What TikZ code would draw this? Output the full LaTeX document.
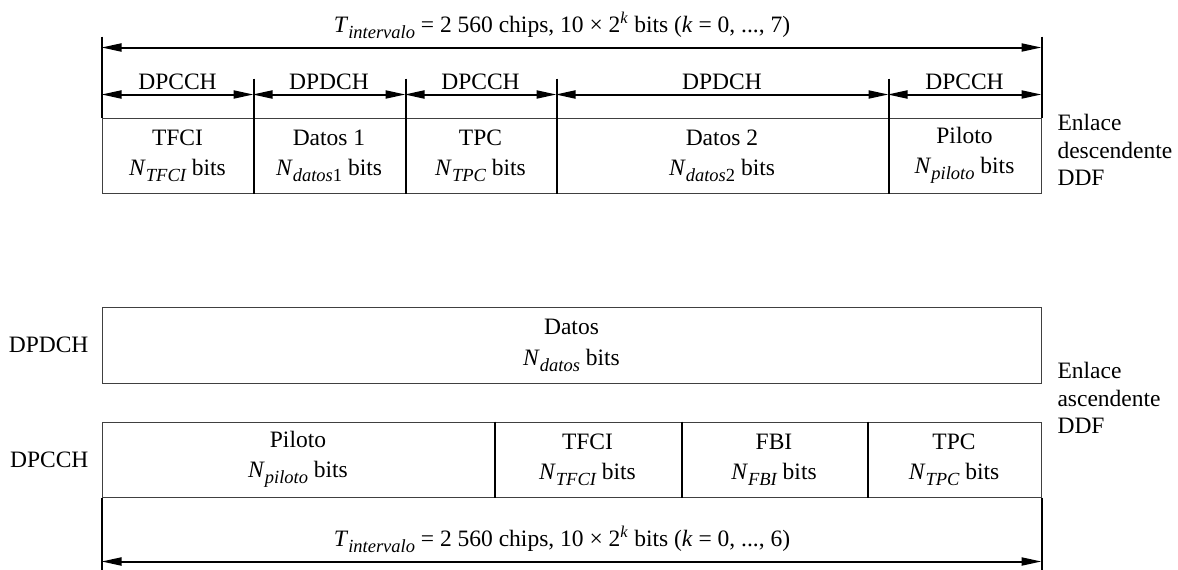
\documentclass[tikz,border=0pt]{standalone}
\usepackage{fontspec}
\setmainfont{Liberation Serif}
\usetikzlibrary{arrows.meta}
\newcommand{\sbx}[1]{\raisebox{-6pt}{\fontsize{18.5}{18.5}\selectfont\itshape #1}}
\newcommand{\nbits}[1]{\textit{N}\sbx{#1} bits}
\newcommand{\tint}{\textit{T}\sbx{intervalo}}

\begin{document}
\begin{tikzpicture}[
  x=1pt,y=1pt,
  font=\fontsize{23.5}{28}\selectfont,
  field/.style={draw=black!75,line width=1pt,minimum height=75pt,inner sep=0pt,align=center},
  dim/.style={{Triangle[length=20pt,width=8pt]}-{Triangle[length=20pt,width=8pt]},line width=2pt},
  sep/.style={line width=2pt},
  side/.style={anchor=west,align=left,font=\fontsize{23.5}{27.5}\selectfont}
]
\useasboundingbox (0,0) rectangle (1178,-570);
% enlace descendente
\node[field,minimum width=151pt] (tfci) at (177.5,-155.5) {TFCI\\[2pt]\nbits{TFCI}};
\node[field,minimum width=152pt] (dat1) at (329,-155.5) {Datos 1\\[2pt]\nbits{datos\upshape 1}};
\node[field,minimum width=151pt] (tpc) at (480.5,-155.5) {TPC\\[2pt]\nbits{TPC}};
\node[field,minimum width=332pt] (dat2) at (722,-155.5) {Datos 2\\[2pt]\nbits{datos\upshape 2}};
\node[field,minimum width=153pt] (pil) at (964.5,-155.5) {Piloto\\[2pt]\nbits{piloto}};
\node[side] (down) at (1054,-150) {Enlace\\descendente\\DDF};
\draw[sep] ([yshift=81pt]tfci.north west) -- (tfci.north west);
\draw[sep] ([yshift=81pt]pil.north east) -- (pil.north east);
\draw[sep] ([yshift=39pt]tfci.north east) -- (tfci.south east);
\draw[sep] ([yshift=39pt]dat1.north east) -- (dat1.south east);
\draw[sep] ([yshift=39pt]tpc.north east) -- (tpc.south east);
\draw[sep] ([yshift=39pt]dat2.north east) -- (dat2.south east);
\draw[dim] ([yshift=70pt]tfci.north west) -- node[above=4pt,xshift=-9.5pt]{\tint{} = 2~560 chips, 10 × 2\textsuperscript{\textit{k}} bits (\textit{k} = 0, ..., 7)} ([yshift=70pt]pil.north east);
\draw[dim] ([yshift=23pt]tfci.north west) -- node[above]{DPCCH} ([yshift=23pt]tfci.north east);
\draw[dim] ([yshift=23pt]dat1.north west) -- node[above]{DPDCH} ([yshift=23pt]dat1.north east);
\draw[dim] ([yshift=23pt]tpc.north west) -- node[above]{DPCCH} ([yshift=23pt]tpc.north east);
\draw[dim] ([yshift=23pt]dat2.north west) -- node[above]{DPDCH} ([yshift=23pt]dat2.north east);
\draw[dim] ([yshift=23pt]pil.north west) -- node[above]{DPCCH} ([yshift=23pt]pil.north east);
% enlace ascendente
\node[field,minimum width=939pt,minimum height=76pt] (datos) at (571.5,-345) {Datos\\[3pt]\nbits{datos}};
\node[field,minimum width=392pt] (bpil) at (298,-459.5) {Piloto\\[2pt]\nbits{piloto}};
\node[field,minimum width=187pt] (btfci) at (587.5,-459.5) {TFCI\\[2pt]\nbits{TFCI}};
\node[field,minimum width=186pt] (bfbi) at (774,-459.5) {FBI\\[2pt]\nbits{FBI}};
\node[field,minimum width=174pt] (btpc) at (954,-459.5) {TPC\\[2pt]\nbits{TPC}};
\node[anchor=east] (ldpdch) at (92,-345) {DPDCH};
\node[anchor=east] (ldpcch) at (92,-460) {DPCCH};
\node[side] (up) at (1054,-398) {Enlace\\ascendente\\DDF};
\draw[sep] (bpil.north east) -- (bpil.south east);
\draw[sep] (btfci.north east) -- (btfci.south east);
\draw[sep] (bfbi.north east) -- (bfbi.south east);
\draw[sep] (bpil.south west) -- ++(0,-73);
\draw[sep] (btpc.south east) -- ++(0,-73);
\draw[dim] ([yshift=-64pt]bpil.south west) -- node[above=4pt,xshift=-9.5pt]{\tint{} = 2~560 chips, 10 × 2\textsuperscript{\textit{k}} bits (\textit{k} = 0, ..., 6)} ([yshift=-64pt]btpc.south east);
\end{tikzpicture}
\end{document}
